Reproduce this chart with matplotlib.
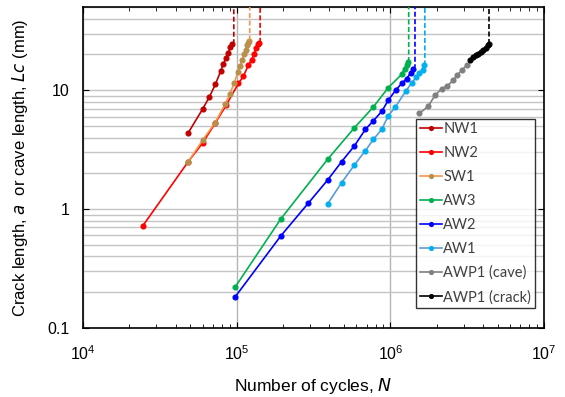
import matplotlib
matplotlib.use("Agg")
import matplotlib.pyplot as plt
import numpy as np
from matplotlib.ticker import LogLocator, FixedLocator, NullFormatter

# ---- data (cycles N, crack / cave length in mm) ----
nw1_n = [48400, 60100, 66400, 72600, 78700, 81900, 85200, 88200, 90800, 93600]
nw1_a = [4.39, 6.97, 8.79, 11.2, 14.5, 16.7, 18.8, 20.7, 23.1, 24.6]

nw2_n = [24500, 48400, 60100, 72300, 85200, 102600, 110400, 119000, 125100, 129600, 133500, 137000, 140400]
nw2_a = [0.724, 2.51, 3.61, 5.26, 7.45, 11.4, 13.1, 16.2, 18.1, 20.3, 22.6, 24.3, 25.1]

sw1_n = [48400, 60100, 72300, 83900, 90400, 96000, 101900, 105000, 108100, 111400, 114200, 116600, 119000, 120700]
sw1_a = [2.51, 3.81, 5.33, 7.59, 9.38, 11.4, 14.2, 15.9, 18.1, 20.0, 21.9, 23.8, 25.1, 26.2]

aw3_n = [97500, 194000, 391000, 583000, 775000, 968000, 1183000, 1235000, 1273000, 1305000]
aw3_a = [0.220, 0.830, 2.63, 4.83, 7.24, 10.5, 13.6, 15.2, 16.2, 17.3]

aw2_n = [97500, 194000, 292000, 391000, 482000, 583000, 687000, 775000, 881000, 968000, 1082000, 1183000,
         1273000, 1356000, 1409000]
aw2_a = [0.182, 0.597, 1.12, 1.76, 2.51, 3.40, 4.68, 5.53, 6.67, 8.24, 10.0, 11.4, 12.5, 14.0, 15.2]

aw1_n = [391000, 482000, 583000, 687000, 775000, 881000, 968000, 1072000, 1262000, 1374000, 1468000,
         1543000, 1623000, 1655000]
aw1_a = [1.11, 1.67, 2.35, 3.10, 3.86, 4.71, 6.10, 7.16, 9.87, 11.5, 12.8, 14.0, 14.9, 16.2]

awp1_cave_n = [1543000, 1765000, 1952000, 2157000, 2346000, 2566000, 2725000, 2908000, 3137000]
awp1_cave_a = [6.38, 7.34, 9.08, 10.3, 10.9, 12.1, 13.4, 14.7, 16.2]

awp1_crack_n = [3297000, 3465000, 3608000, 3733000, 3866000, 4025000, 4168000, 4296000, 4375000]
awp1_crack_a = [18.1, 19.0, 19.6, 20.3, 21.0, 21.9, 22.8, 23.8, 24.3]

# failure (vertical dashed) positions
fail_n = {"NW1": 95700, "NW2": 142000, "SW1": 121500, "AW3": 1315000,
          "AW2": 1445000, "AW1": 1675000, "AWP1 (crack)": 4375000}

series = [
    ("NW1", nw1_n, nw1_a, "#c00000", "#c00000"),
    ("NW2", nw2_n, nw2_a, "#ff0000", "#ff0000"),
    ("SW1", sw1_n, sw1_a, "#f79646", "#b8904a"),
    ("AW3", aw3_n, aw3_a, "#00b050", "#00b050"),
    ("AW2", aw2_n, aw2_a, "#0000ff", "#0000ff"),
    ("AW1", aw1_n, aw1_a, "#5b9bd5", "#00b0f0"),
    ("AWP1 (cave)", awp1_cave_n, awp1_cave_a, "#808080", "#808080"),
    ("AWP1 (crack)", awp1_crack_n, awp1_crack_a, "#000000", "#000000"),
]

plt.rcParams["font.family"] = ["Liberation Sans", "DejaVu Sans"]

fig = plt.figure(figsize=(5.65, 3.97), dpi=100)
ax = fig.add_axes([0.147, 0.174, 0.816, 0.808])

for name, n, a, lc, mc in series:
    ax.plot(n, a, color=lc, lw=1.2, marker="o", ms=3.4, mfc=mc, mec=mc, label=name, zorder=3)
    if name in fail_n:
        dash_c = "#f79646" if name == "SW1" else mc
        ax.plot([n[-1], fail_n[name], fail_n[name]], [a[-1], a[-1] * 1.04, 100],
                color=dash_c, lw=1.2, ls=(0, (3, 1.5)), zorder=3)

ax.set_xscale("log")
ax.set_yscale("log")
ax.set_xlim(1e4, 1e7)
ax.set_ylim(0.1, 50)

ax.yaxis.set_major_locator(FixedLocator([0.1, 1, 10]))
ax.set_yticklabels(["0.1", "1", "10"])
ax.yaxis.set_minor_locator(LogLocator(base=10, subs=np.arange(2, 10)))
ax.yaxis.set_minor_formatter(NullFormatter())
ax.xaxis.set_minor_locator(LogLocator(base=10, subs=np.arange(2, 10)))
ax.xaxis.set_minor_formatter(NullFormatter())

ax.grid(True, which="major", axis="x", color="#b4b4b4", lw=1.0)
ax.grid(True, which="both", axis="y", color="#c4c4c4", lw=1.0)
ax.set_axisbelow(True)

ax.tick_params(which="both", direction="in", top=True, right=True, labelsize=11.5, colors="black")
ax.tick_params(which="major", length=4)
ax.tick_params(axis="x", which="major", pad=12)
ax.tick_params(axis="y", which="major", pad=10)
ax.tick_params(which="minor", length=3)
ax.tick_params(axis="y", which="minor", length=0)
for s in ax.spines.values():
    s.set_linewidth(1.2)

ax.set_xlabel("Number of cycles, $\\it{N}$", fontsize=12.5, labelpad=9)
ax.set_ylabel("Crack length, $\\it{a}$  or cave length, $\\it{Lc}$ (mm)", fontsize=12, labelpad=12)

leg = ax.legend(loc="lower right", bbox_to_anchor=(0.980, 0.062), borderaxespad=0,
                prop={"family": "Lato", "size": 10.5},
                frameon=True, fancybox=False, edgecolor="black", handlelength=1.5,
                handletextpad=0.1, labelspacing=0.68, borderpad=0.25, markerscale=0.8)
leg.get_frame().set_linewidth(1.0)
leg.set_zorder(5)
for t in leg.get_texts():
    t.set_color("#404040")

fig.savefig("out.png", dpi=100)
